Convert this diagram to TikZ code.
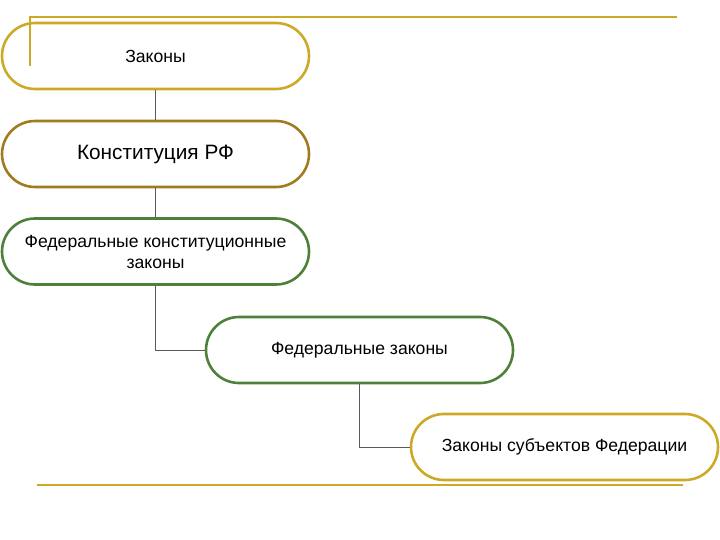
\documentclass[tikz,border=0pt]{standalone}
\usepackage{fontspec}
\setmainfont{Liberation Sans}
\usetikzlibrary{positioning}
\definecolor{zoloto}{RGB}{204,170,40}
\definecolor{bronza}{RGB}{160,124,30}
\definecolor{zelen}{RGB}{78,128,58}
\definecolor{liniya}{RGB}{90,90,90}

\begin{document}
\begin{tikzpicture}[
    x=1pt,
    y=-1pt,
    law/.style={rectangle, draw, fill=white, line width=2.6pt, rounded corners=33pt, minimum width=307pt, minimum height=66pt, align=center, inner sep=0pt, font=\fontsize{17.6}{21}\selectfont},
    link/.style={draw=liniya, line width=0.8pt},
    rule/.style={draw=zoloto, line width=2pt}
]
\useasboundingbox (0,0) rectangle (720,540);

\node[law, draw=zoloto] (zakony) at (155.5, 56) {Законы};
\node[law, draw=bronza, font=\fontsize{20.8}{25}\selectfont] (konst) at (155.5, 154) {Конституция РФ};
\node[law, draw=zelen] (fkz) at (155.5, 251.5) {Федеральные конституционные\\законы};
\node[law, draw=zelen] (fz) at (359.5, 350) {Федеральные законы};
\node[law, draw=zoloto] (subj) at (564.5, 447) {Законы субъектов Федерации};

\draw[link] (zakony) -- (konst);
\draw[link] (konst) -- (fkz);
\draw[link] (fkz.south) |- (fz.west);
\draw[link] (fz.south) |- (subj.west);

% decorative rules
\draw[rule] (30, 66) -- (30, 17) -- (677, 17);
\draw[rule] (37, 485) -- (683, 485);
\end{tikzpicture}
\end{document}
